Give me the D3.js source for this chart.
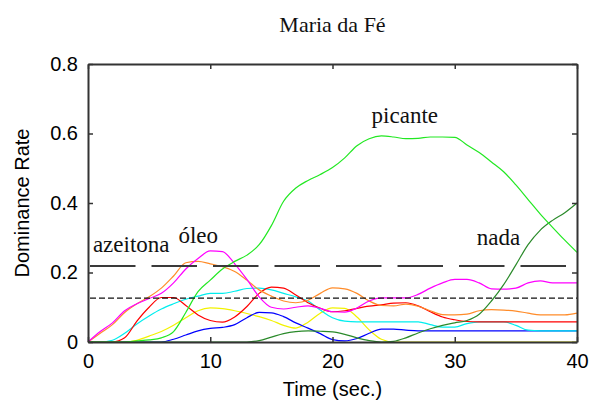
<!DOCTYPE html>
<html>
<head>
<meta charset="utf-8">
<script src="https://cdn.jsdelivr.net/npm/d3@7"></script>
<style>
  body { margin: 0; background: #fff; }
  svg { display: block; }
  .tick text { font-family: "Liberation Sans", Arial, sans-serif; font-size: 20px; fill: #000; }
  .note { font-family: "Liberation Serif", "Times New Roman", serif; font-size: 23px; fill: #111; }
</style>
</head>
<body>
<svg width="593" height="408"></svg>
<script>
const title = "Maria da Fé";
const xLabel = "Time (sec.)";
const yLabel = "Dominance Rate";

const time = [0, 1, 2, 3, 4, 5, 6, 7, 8, 9, 10, 11, 12, 13, 14, 15, 16, 17, 18, 19, 20,
  21, 22, 23, 24, 25, 26, 27, 28, 29, 30, 31, 32, 33, 34, 35, 36, 37, 38, 39, 40];

const xTicks = [0, 10, 20, 30, 40];
const yTicks = [0, 0.2, 0.4, 0.6, 0.8];

// one curve per attribute
const yellow = [0, 0, 0, 0, 0.005, 0.017, 0.03, 0.048, 0.07, 0.09, 0.098, 0.096, 0.09, 0.082, 0.073, 0.062,
  0.048, 0.04, 0.057, 0.083, 0.098, 0.097, 0.072, 0.035, 0.008, 0, 0, 0, 0, 0, 0,
  0, 0, 0, 0, 0, 0, 0, 0, 0, 0];
const blue = [0, 0, 0, 0, 0, 0, 0, 0.008, 0.02, 0.032, 0.039, 0.042, 0.05, 0.07, 0.085, 0.084,
  0.073, 0.055, 0.04, 0.024, 0.007, 0.003, 0.01, 0.025, 0.037, 0.037, 0.034, 0.032, 0.032, 0.032, 0.032,
  0.032, 0.032, 0.032, 0.032, 0.032, 0.032, 0.032, 0.032, 0.032, 0.032];
const cyan = [0, 0, 0.005, 0.025, 0.052, 0.075, 0.095, 0.11, 0.123, 0.132, 0.14, 0.14, 0.146, 0.154, 0.155, 0.15,
  0.14, 0.13, 0.118, 0.092, 0.07, 0.06, 0.058, 0.058, 0.058, 0.058, 0.058, 0.058, 0.05, 0.043, 0.043,
  0.053, 0.058, 0.058, 0.058, 0.048, 0.034, 0.032, 0.032, 0.032, 0.032];
const red = [0, 0, 0, 0.012, 0.06, 0.1, 0.128, 0.128, 0.105, 0.078, 0.062, 0.057, 0.072, 0.102, 0.14, 0.158,
  0.155, 0.135, 0.113, 0.097, 0.087, 0.09, 0.097, 0.103, 0.107, 0.112, 0.113, 0.104, 0.087, 0.072, 0.064,
  0.059, 0.058, 0.058, 0.058, 0.058, 0.058, 0.058, 0.058, 0.058, 0.058];
const orange = [0, 0.025, 0.05, 0.085, 0.11, 0.13, 0.155, 0.19, 0.228, 0.232, 0.225, 0.217, 0.203, 0.178, 0.15, 0.132,
  0.118, 0.113, 0.12, 0.14, 0.156, 0.153, 0.14, 0.118, 0.105, 0.104, 0.109, 0.103, 0.09, 0.079, 0.078,
  0.08, 0.09, 0.093, 0.092, 0.089, 0.083, 0.078, 0.078, 0.078, 0.083];
const magenta = [0, 0.03, 0.055, 0.09, 0.11, 0.125, 0.14, 0.17, 0.21, 0.24, 0.262, 0.26, 0.225, 0.18, 0.13, 0.1,
  0.095, 0.1, 0.104, 0.097, 0.087, 0.086, 0.098, 0.118, 0.127, 0.127, 0.127, 0.137, 0.155, 0.17, 0.18,
  0.18, 0.17, 0.153, 0.152, 0.155, 0.17, 0.176, 0.17, 0.17, 0.17];
const darkGreen = [0, 0, 0, 0, 0, 0, 0, 0, 0, 0, 0, 0, 0, 0, 0.004, 0.014,
  0.024, 0.03, 0.032, 0.031, 0.029, 0.022, 0.012, 0.004, 0, 0.002, 0.012, 0.026, 0.038, 0.048, 0.055,
  0.062, 0.08, 0.118, 0.165, 0.222, 0.28, 0.322, 0.35, 0.372, 0.4];
const green = [0, 0, 0, 0, 0.003, 0.006, 0.012, 0.03, 0.085, 0.145, 0.178, 0.21, 0.232, 0.25, 0.28, 0.335,
  0.405, 0.443, 0.465, 0.482, 0.502, 0.53, 0.565, 0.585, 0.593, 0.59, 0.585, 0.586, 0.59, 0.59, 0.589,
  0.567, 0.545, 0.518, 0.49, 0.452, 0.41, 0.368, 0.33, 0.293, 0.258];

const seriesNames = ["yellow", "blue", "cyan", "red", "orange", "magenta", "darkGreen", "green"];
const seriesValues = [yellow, blue, cyan, red, orange, magenta, darkGreen, green];
const seriesColors = ["#f2f200", "#0000ff", "#00eeee", "#ff0000", "#ff8c2a", "#ff00ff", "#2a8a2a", "#22e822"];

// significance levels (long dash, short dash)
const levels = [0.219, 0.126];

// text notes on the plot
const noteText = ["azeitona", "óleo", "picante", "nada"];
const noteTime = [0.4, 7.4, 23.2, 31.8];
const noteValue = [0.259, 0.285, 0.63, 0.279];

const svg = d3.select("svg");
const margin = { top: 64, right: 16, bottom: 66, left: 88 };
const width = 593 - margin.left - margin.right;
const height = 408 - margin.top - margin.bottom;

const x = d3.scaleLinear().domain([0, 40]).range([margin.left, margin.left + width]);
const y = d3.scaleLinear().domain([0, 0.8]).range([margin.top + height, margin.top]);

// title
svg.append("text")
  .attr("class", "note")
  .attr("x", x(20))
  .attr("y", 32)
  .attr("text-anchor", "middle")
  .style("font-size", "22px")
  .text(title);

// curves
const line = d3.line()
  .x(function (d, i) { return x(time[i]); })
  .y(function (d) { return y(d); })
  .curve(d3.curveMonotoneX);

svg.append("g")
  .selectAll("path.series")
  .data(seriesValues)
  .join("path")
  .classed("series", true)
  .attr("fill", "none")
  .attr("stroke", function (d, i) { return seriesColors[i]; })
  .attr("stroke-width", 1.2)
  .attr("d", line);

// threshold lines
svg.append("g")
  .selectAll("line.level")
  .data(levels)
  .join("line")
  .classed("level", true)
  .attr("x1", x(0) + 2)
  .attr("x2", x(40))
  .attr("y1", function (d) { return y(d); })
  .attr("y2", function (d) { return y(d); })
  .attr("stroke", function (d, i) { return i === 0 ? "#3a3a3a" : "#111"; })
  .attr("stroke-width", function (d, i) { return i === 0 ? 2 : 1.3; })
  .attr("stroke-dasharray", function (d, i) { return i === 0 ? "45.5,16" : "6,3"; });

// axes
const axisColor = "#333";
const xAxis = svg.append("g")
  .attr("transform", "translate(0," + y(0) + ")")
  .call(d3.axisBottom(x).tickValues(xTicks).tickFormat(d3.format("d")).tickSizeInner(-5).tickSizeOuter(0).tickPadding(12));
const yAxis = svg.append("g")
  .attr("transform", "translate(" + x(0) + ",0)")
  .call(d3.axisLeft(y).tickValues(yTicks).tickFormat(function (d) { return d === 0 ? "0" : d3.format(".1f")(d); })
    .tickSizeInner(-5).tickSizeOuter(0).tickPadding(10));
const xTop = svg.append("g")
  .attr("transform", "translate(0," + y(0.8) + ")")
  .call(d3.axisTop(x).tickValues(xTicks).tickSizeInner(-5).tickSizeOuter(0).tickFormat(""));
const yRight = svg.append("g")
  .attr("transform", "translate(" + x(40) + ",0)")
  .call(d3.axisRight(y).tickValues(yTicks).tickSizeInner(-5).tickSizeOuter(0).tickFormat(""));

[xAxis, yAxis, xTop, yRight].forEach(function (g) {
  g.select(".domain").attr("stroke", axisColor).attr("stroke-width", 2);
  g.selectAll(".tick line").attr("stroke", axisColor).attr("stroke-width", 1.5);
});

// axis titles
svg.append("text")
  .attr("x", x(20))
  .attr("y", 396)
  .attr("text-anchor", "middle")
  .style("font-family", "'Liberation Sans', Arial, sans-serif")
  .style("font-size", "20px")
  .text(xLabel);

svg.append("text")
  .attr("transform", "translate(29," + y(0.4) + ") rotate(-90)")
  .attr("text-anchor", "middle")
  .style("font-family", "'Liberation Sans', Arial, sans-serif")
  .style("font-size", "20px")
  .text(yLabel);

// notes
svg.append("g")
  .selectAll("text.label")
  .data(noteText)
  .join("text")
  .attr("class", "note")
  .attr("x", function (d, i) { return x(noteTime[i]); })
  .attr("y", function (d, i) { return y(noteValue[i]); })
  .text(function (d) { return d; });
</script>
</body>
</html>
